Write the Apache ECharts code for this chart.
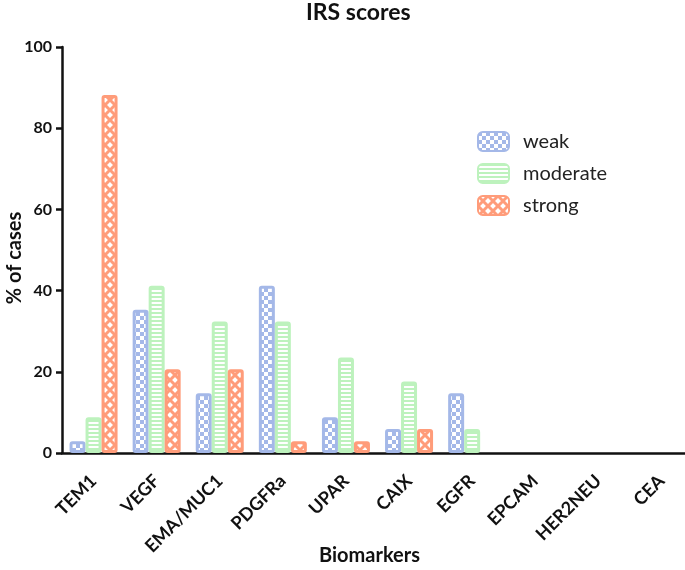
<!DOCTYPE html>
<html><head><meta charset="utf-8">
<script src="https://cdn.jsdelivr.net/npm/echarts@6/dist/echarts.min.js"></script>
<style>html,body{margin:0;padding:0;background:#fff}#c{width:685px;height:570px}</style>
</head><body><div id="c"></div>
<script>
const categories = ['TEM1','VEGF','EMA/MUC1','PDGFRa','UPAR','CAIX','EGFR','EPCAM','HER2NEU','CEA'];
const weak = [2.9, 35.3, 14.7, 41.2, 8.8, 5.9, 14.7, 0, 0, 0];
const moderate = [8.8, 41.2, 32.4, 32.4, 23.5, 17.6, 5.9, 0, 0, 0];
const strong = [88.2, 20.6, 20.6, 2.9, 2.9, 5.9, 0, 0, 0, 0];
const seriesNames = ['weak','moderate','strong'];
const yTicks = [0, 20, 40, 60, 80, 100];

const COL = {weak:'#a4b8e8', moderate:'#bdf2bd', strong:'#ff9c7a'};
const FONT = 'Lato, "Open Sans", sans-serif';

function pattern(kind, color){
  const cv = document.createElement('canvas');
  const ctx = cv.getContext('2d');
  if(kind==='weak'){
    cv.width=8; cv.height=8;
    ctx.fillStyle='#fff'; ctx.fillRect(0,0,8,8);
    ctx.fillStyle=color; ctx.fillRect(0,0,4,4); ctx.fillRect(4,4,4,4);
  } else if(kind==='moderate'){
    cv.width=4; cv.height=4;
    ctx.fillStyle='#fff'; ctx.fillRect(0,0,4,4);
    ctx.fillStyle=color; ctx.fillRect(0,0,4,2);
  } else {
    cv.width=10; cv.height=10;
    ctx.fillStyle='#fff'; ctx.fillRect(0,0,10,10);
    ctx.strokeStyle=color; ctx.lineWidth=3;
    ctx.beginPath();
    ctx.moveTo(-2,-2); ctx.lineTo(12,12);
    ctx.moveTo(12,-2); ctx.lineTo(-2,12);
    ctx.stroke();
  }
  return {image: cv, repeat:'repeat'};
}

const dataMap = {weak, moderate, strong};
const chart = echarts.init(document.getElementById('c'), null, {renderer:'canvas'});
chart.setOption({
  animation:false,
  backgroundColor:'#fff',
  title:{text:'IRS scores', left:301, top:-4,
    textStyle:{fontFamily:FONT, fontWeight:'bold', fontSize:23, color:'#111'}},
  legend:{orient:'vertical', left:477, top:131, padding:0, itemWidth:31, itemHeight:19, itemGap:11,
    data:seriesNames,
    textStyle:{fontFamily:FONT, fontSize:20, color:'#222', padding:[0,0,0,9]}},
  grid:{left:62, right:-8, top:47, bottom:117, containLabel:false, outerBoundsMode:'none'},
  xAxis:{type:'category', data:categories,
    name:'Biomarkers', nameLocation:'middle', nameGap:93, nameMoveOverlap:false,
    nameTextStyle:{fontFamily:FONT, fontWeight:'bold', fontSize:20, color:'#111', padding:[0,16,0,0]},
    axisLine:{lineStyle:{color:'#111', width:2.5}},
    axisTick:{alignWithLabel:true, length:7, lineStyle:{color:'#111', width:2.5}},
    axisLabel:{rotate:45, interval:0, margin:25, fontFamily:FONT, fontWeight:'bold', fontSize:18, color:'#111'}},
  yAxis:{type:'value', min:yTicks[0], max:yTicks[yTicks.length-1], interval:20,
    name:'% of cases', nameLocation:'middle', nameGap:37, nameRotate:90, nameMoveOverlap:false,
    nameTextStyle:{fontFamily:FONT, fontWeight:'bold', fontSize:20, color:'#111', padding:[0,16,0,0]},
    axisLine:{show:true, lineStyle:{color:'#111', width:2.5}},
    axisTick:{show:true, length:6, lineStyle:{color:'#111', width:2.5}},
    splitLine:{show:false},
    axisLabel:{margin:10, fontFamily:FONT, fontWeight:'bold', fontSize:16, color:'#111'}},
  series: seriesNames.map(n=>({
    name:n, type:'bar', data:dataMap[n].map(v => v === 0 ? '-' : v), barWidth:16, barGap:'0%',
    itemStyle:{color:pattern(n, COL[n]), borderColor:COL[n], borderWidth:3, borderRadius:1.5}
  }))
});
</script></body></html>
